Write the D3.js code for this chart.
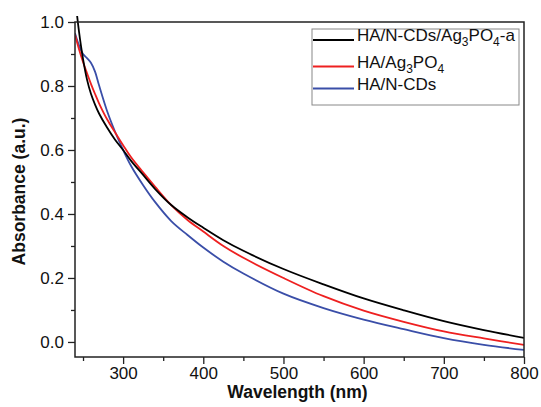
<!DOCTYPE html>
<html>
<head>
<meta charset="utf-8">
<script src="https://cdn.jsdelivr.net/npm/d3@7"></script>
<style>
  body { margin: 0; background: #fff; }
  text { font-family: "Liberation Sans", Arial, sans-serif; fill: #111; }
</style>
</head>
<body>
<script>
// wavelengths (nm) shared by all series
const wavelength = [240, 245, 250, 255, 260, 265, 270, 280, 290, 300, 310, 325, 340, 360, 380, 400, 425, 450, 500, 550, 600, 650, 700, 750, 800];

// absorbance
const hacdsAg = [1.08, 0.97, 0.885, 0.82, 0.775, 0.742, 0.714, 0.67, 0.632, 0.6, 0.566, 0.522, 0.478, 0.428, 0.39, 0.357, 0.318, 0.285, 0.228, 0.18, 0.136, 0.099, 0.065, 0.037, 0.013];
const haAg = [0.96, 0.915, 0.875, 0.84, 0.806, 0.775, 0.746, 0.696, 0.655, 0.615, 0.577, 0.53, 0.485, 0.428, 0.382, 0.345, 0.3, 0.263, 0.2, 0.143, 0.098, 0.063, 0.033, 0.011, -0.009];
const hacds = [0.965, 0.927, 0.9, 0.887, 0.872, 0.845, 0.802, 0.722, 0.657, 0.6, 0.55, 0.49, 0.437, 0.378, 0.335, 0.295, 0.251, 0.214, 0.151, 0.106, 0.07, 0.04, 0.012, -0.009, -0.025];

const xTicks = [300, 400, 500, 600, 700, 800];
const yTicks = [0.0, 0.2, 0.4, 0.6, 0.8, 1.0];

const series = [
    {parts: [["HA/N-CDs/Ag"], ["3", true], ["PO"], ["4", true], ["-a"]], values: hacdsAg, color: "#000000"},
    {parts: [["HA/Ag"], ["3", true], ["PO"], ["4", true]], values: haAg, color: "#ee2020"},
    {parts: [["HA/N-CDs"]], values: hacds, color: "#3a4ea8"}
];

const W = 541, H = 407;
const mLeft = 75, mRight = 524, mTop = 22, mBottom = 357;

const svg = d3.select("body").append("svg")
    .attr("width", W)
    .attr("height", H);

const x = d3.scaleLinear().domain([240, 800]).range([mLeft, mRight]);
const y = d3.scaleLinear().domain([-0.047, 1.0]).range([mBottom, mTop]);

// clip the curves to the frame
svg.append("clipPath").attr("id", "plotClip")
    .append("rect")
    .attr("x", mLeft).attr("y", mTop - 6)
    .attr("width", mRight - mLeft).attr("height", mBottom - mTop + 6);

const line = d3.line()
    .x((d, i) => x(wavelength[i]))
    .y(d => y(d))
    .curve(d3.curveCatmullRom.alpha(0.5));

svg.append("g")
    .attr("clip-path", "url(#plotClip)")
    .selectAll("path")
    .data(series.slice().reverse())
    .enter()
    .append("path")
    .attr("d", d => line(d.values))
    .attr("fill", "none")
    .attr("stroke", d => d.color)
    .attr("stroke-width", 1.8);

// axes
const xAxis = svg.append("g")
    .attr("transform", "translate(0," + mBottom + ")")
    .call(d3.axisBottom(x).tickValues(xTicks).tickFormat(d3.format("d")).tickSize(7).tickPadding(3));
const xMinor = svg.append("g")
    .attr("transform", "translate(0," + mBottom + ")")
    .call(d3.axisBottom(x).tickValues([250, 350, 450, 550, 650, 750]).tickFormat("").tickSize(4));

const yAxis = svg.append("g")
    .attr("transform", "translate(" + mLeft + ",0)")
    .call(d3.axisLeft(y).tickValues(yTicks).tickFormat(d3.format(".1f")).tickSize(7).tickPadding(4));
const yMinor = svg.append("g")
    .attr("transform", "translate(" + mLeft + ",0)")
    .call(d3.axisLeft(y).tickValues([0.1, 0.3, 0.5, 0.7, 0.9]).tickFormat("").tickSize(4));

[xAxis, xMinor, yAxis, yMinor].forEach(g => {
    g.select(".domain").remove();
    g.selectAll(".tick line").attr("stroke", "#222").attr("stroke-width", 1.3);
    g.selectAll(".tick text")
        .attr("font-size", 17)
        .attr("font-family", "Liberation Sans, Arial, sans-serif")
        .attr("fill", "#111");
});

// frame
svg.append("rect")
    .attr("x", mLeft).attr("y", mTop)
    .attr("width", mRight - mLeft).attr("height", mBottom - mTop)
    .attr("fill", "none")
    .attr("stroke", "#222")
    .attr("stroke-width", 1.5);

// axis titles
svg.append("text")
    .attr("x", (mLeft + mRight) / 2 - 2)
    .attr("y", 398)
    .attr("text-anchor", "middle")
    .attr("font-size", 17.5)
    .attr("font-weight", "bold")
    .text("Wavelength (nm)");

svg.append("text")
    .attr("transform", "translate(25," + ((mTop + mBottom) / 2 + 2) + ") rotate(-90)")
    .attr("text-anchor", "middle")
    .attr("font-size", 17.5)
    .attr("font-weight", "bold")
    .text("Absorbance (a.u.)");

// legend
const legend = svg.append("g");
legend.append("rect")
    .attr("x", 312).attr("y", 29)
    .attr("width", 207).attr("height", 76)
    .attr("fill", "#fff")
    .attr("stroke", "#888")
    .attr("stroke-width", 1);

const rowY = [40, 66.5, 88.5];
const rows = legend.selectAll("g.row")
    .data(series)
    .enter()
    .append("g")
    .attr("class", "row")
    .attr("transform", (d, i) => "translate(0," + rowY[i] + ")");

rows.append("line")
    .attr("x1", 313).attr("x2", 354)
    .attr("stroke", d => d.color)
    .attr("stroke-width", 1.8);

rows.append("text")
    .attr("x", 357)
    .attr("y", 6)
    .attr("font-size", 17)
    .each(function(d) {
        const t = d3.select(this);
        d.parts.forEach(p => {
            if (p[1]) {
                t.append("tspan").attr("font-size", 12).attr("dy", 5).text(p[0]);
            } else {
                t.append("tspan").attr("dy", t.selectAll("tspan").size() ? -5 : 0).text(p[0]);
            }
        });
    });
</script>
</body>
</html>
